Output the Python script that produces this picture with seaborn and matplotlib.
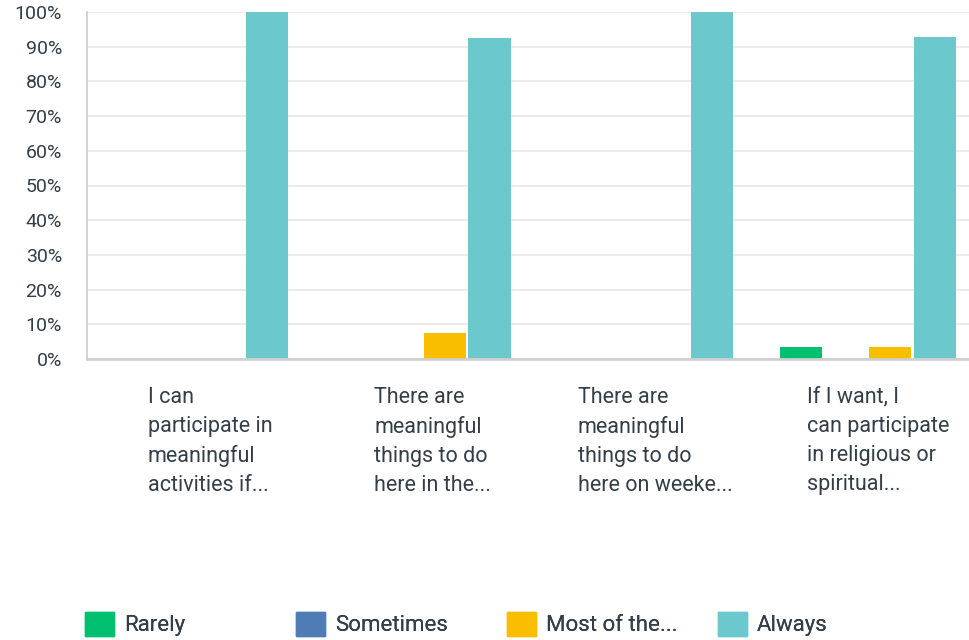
import numpy as np
import pandas as pd
import matplotlib
matplotlib.use("Agg")
import matplotlib.pyplot as plt
import matplotlib.transforms as mtransforms
from matplotlib.patches import Patch
import seaborn as sns

# =====================================================
# DATA
# =====================================================

questions = [
    "I can\nparticipate in\nmeaningful\nactivities if...",
    "There are\nmeaningful\nthings to do\nhere in the...",
    "There are\nmeaningful\nthings to do\nhere on weeke...",
    "If I want, I\ncan participate\nin religious or\nspiritual...",
]
answers = ["Rarely", "Sometimes", "Most of the...", "Always"]
colors = ["#00BF6F", "#507CB6", "#F9BE00", "#6BC8CD"]

rarely = [0, 0, 0, 3.57]
sometimes = [0, 0, 0, 0]
most = [0, 7.41, 0, 3.57]
always = [100, 92.59, 100, 92.86]

df = pd.DataFrame({
    "question": questions * 4,
    "answer": np.repeat(answers, 4),
    "pct": rarely + sometimes + most + always,
})

# =====================================================
# PLOT
# =====================================================

sns.set_style("white")
plt.rcParams["font.family"] = ["Roboto", "DejaVu Sans"]
text_col = "#333e48"

fig = plt.figure(figsize=(9.7, 6.4), dpi=100)
ax = fig.add_axes([87 / 970, 281 / 640, 883 / 970, 347 / 640])

sns.barplot(data=df, x="question", y="pct", hue="answer", hue_order=answers,
            palette=colors, width=0.8, gap=0.05, ax=ax, legend=False,
            saturation=1, linewidth=0)

ax.set_ylim(0, 100)
ax.set_xlim(-0.507, 3.458)
ax.set_yticks(np.arange(0, 101, 10))
ax.set_yticklabels([f"{v}%" for v in range(0, 101, 10)])
ax.yaxis.grid(True, color="#ebebeb", linewidth=1.5)
ax.set_axisbelow(True)
ax.set_xlabel("")
ax.set_ylabel("")

for s in ["top", "right"]:
    ax.spines[s].set_visible(False)
ax.spines["left"].set_color("#cccccc")
ax.spines["left"].set_linewidth(1.2)
ax.spines["bottom"].set_color("#cfcfcf")
ax.spines["bottom"].set_linewidth(2)

ax.tick_params(axis="y", length=0, pad=18, labelsize=14, labelcolor=text_col)
ax.tick_params(axis="x", length=0, pad=20, labelsize=15.5, labelcolor=text_col)

offset = mtransforms.ScaledTranslation(10 / 100, 0, fig.dpi_scale_trans)
for lab in ax.get_xticklabels():
    lab.set_ha("center")
    lab.set_va("top")
    lab.set_multialignment("left")
    lab.set_linespacing(1.5)
    lab.set_transform(lab.get_transform() + offset)

# legend, one entry per slot
xs = [85, 296, 507, 718]
for name, col, x in zip(answers, colors, xs):
    leg = fig.legend(handles=[Patch(facecolor=col, edgecolor=col)], labels=[name],
                     loc="center left", bbox_to_anchor=(x / 970, 16 / 640),
                     frameon=False, handlelength=1.3, handleheight=1.3,
                     handletextpad=0.45, borderpad=0, borderaxespad=0,
                     fontsize=16, labelcolor=text_col)
    fig.add_artist(leg)

fig.savefig("out.png", dpi=100)
